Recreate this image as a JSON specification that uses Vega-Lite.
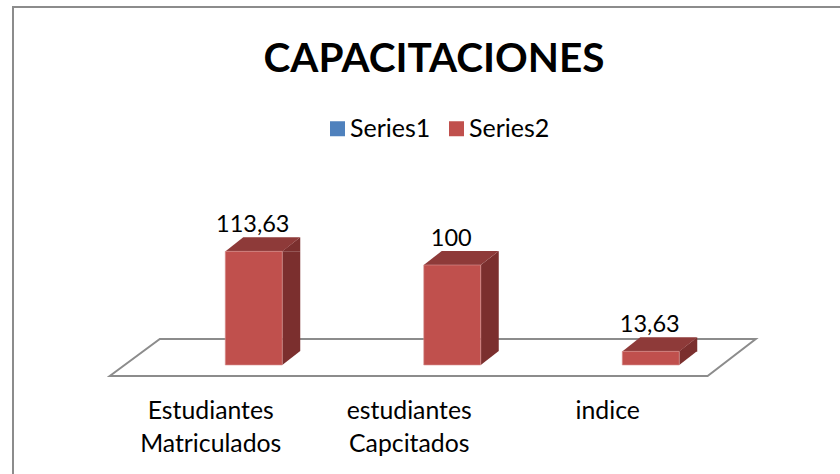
{
"$schema":"https://vega.github.io/schema/vega-lite/v6.json",
"width":900,"height":500,"padding":{"left":13,"top":7,"right":0,"bottom":0},"autosize":{"type":"none"},
"background":"#ffffff",
"config":{"view":{"stroke":"#8c8c8c","strokeWidth":2},"font":"Lato"},
"title":{"text":"CAPACITACIONES","font":"Lato","fontSize":40.5,"fontWeight":"bold","color":"#000000","anchor":"middle","frame":"group","dx":-29,"offset":-105,"baseline":"alphabetic"},
"data":{"values":[
{"categoria":"Estudiantes Matriculados","serie":"Series2","valor":113.63,"etiqueta":"113,63"},
{"categoria":"estudiantes Capcitados","serie":"Series2","valor":100,"etiqueta":"100"},
{"categoria":"indice","serie":"Series2","valor":13.63,"etiqueta":"13,63"}
]},
"encoding":{
"x":{"field":"categoria","type":"nominal","scale":{"type":"band","domain":["Estudiantes Matriculados","estudiantes Capcitados","indice"],"range":[141.5,737],"paddingInner":0,"paddingOuter":0},
"axis":{"title":null,"orient":"bottom","offset":-109,"domain":false,"ticks":false,"labelAngle":0,"labelAlign":"center","labelBaseline":"top","labelOffset":-43,"labelPadding":0,"labelFont":"Lato","labelFontSize":24.8,"labelColor":"#000000","labelLineHeight":33,"labelLimit":0,"labelExpr":"datum.label=='Estudiantes Matriculados'?['Estudiantes','Matriculados']:datum.label=='estudiantes Capcitados'?['estudiantes','Capcitados']:datum.label"}},
"y":{"field":"valor","type":"quantitative","scale":{"domain":[-142,358],"nice":false,"zero":false},"axis":null}
},
"layer":[
{"data":{"values":[{"categoria":"estudiantes Capcitados","valor":0}]},
 "mark":{"type":"point","shape":"M-1,0.0573 L-0.845,-0.0573 L1,-0.0573 L0.851,0.0573 Z","filled":false,"size":417316,"stroke":"#8c8c8c","strokeWidth":2,"opacity":1,"yOffset":-7.5,"xOffset":-19.5}},
{"mark":{"type":"point","filled":true,"opacity":1,"shape":"M-1,0.778 L1,-0.778 L1,0.778 Z","size":324,"color":"#7b2f2e","xOffset":37.5,"yOffset":-7}},
{"data":{"values":[{"categoria":"Estudiantes Matriculados","valor":0},{"categoria":"estudiantes Capcitados","valor":0},{"categoria":"indice","valor":0}]},
 "mark":{"type":"point","filled":true,"opacity":1,"shape":"M-1,0.778 L-1,-0.778 L1,-0.778 Z","size":324,"color":"#7b2f2e","xOffset":37.5,"yOffset":-7}},
{"mark":{"type":"bar","width":18,"color":"#7b2f2e","xOffset":37.5},"encoding":{"y":{"field":"valor","type":"quantitative"},"y2":{"datum":14}}},
{"mark":{"type":"point","filled":true,"opacity":1,"shape":"M-1,0.187 L0.52,0.187 L1,-0.187 L-0.52,-0.187 Z","size":5625,"color":"#8e3a39","xOffset":9,"yOffset":-7}},
{"mark":{"type":"bar","width":57,"stroke":"#d99694","strokeWidth":0.6},"encoding":{"color":{"field":"serie","type":"nominal","scale":{"domain":["Series1","Series2"],"range":["#4f81bd","#c0504d"]},
 "legend":{"title":null,"orient":"none","legendX":312,"legendY":109,"direction":"horizontal","symbolType":"square","symbolSize":225,"symbolStrokeWidth":0,"labelFont":"Lato","labelFontSize":25,"labelColor":"#000000","columnPadding":13,"labelOffset":0}},"y2":{"datum":0}}},
{"mark":{"type":"text","font":"Lato","fontSize":23.5,"color":"#000000","baseline":"alphabetic","dy":-19,"dx":-1},"encoding":{"text":{"field":"etiqueta"}}}
]
}
